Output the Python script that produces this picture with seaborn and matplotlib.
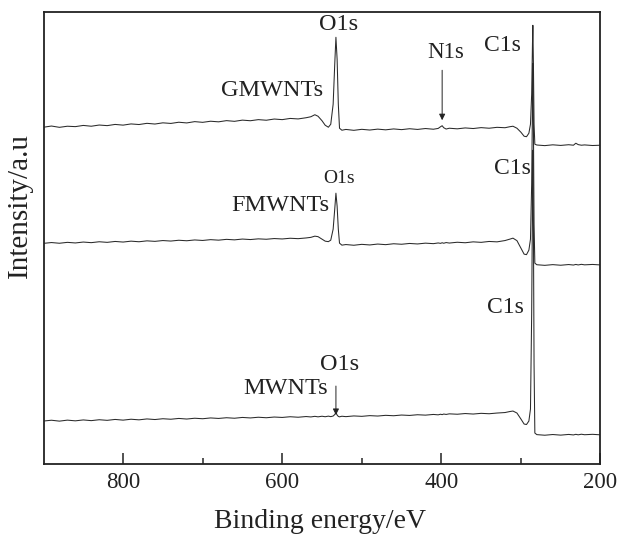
import matplotlib
matplotlib.use("Agg")
import matplotlib.pyplot as plt
import seaborn as sns
import pandas as pd
from matplotlib.ticker import FixedLocator

# Binding energy grid (eV), shared by all three spectra
binding_energy = [
    900, 890, 880, 870, 860, 850, 840, 830, 820, 810,
    800, 790, 780, 770, 760, 750, 740, 730, 720, 710,
    700, 690, 680, 670, 660, 650, 640, 630, 620, 610,
    600, 590, 580, 570,
    564, 559, 555, 550, 546, 542, 539, 536, 534, 532.5, 531, 529.5, 528, 525,
    520, 510, 500, 490, 480, 470, 460, 450, 440, 430, 420, 410,
    404, 401, 399, 397, 394, 390,
    380, 370, 360, 350, 340, 330, 320,
    314, 310, 305, 300, 296, 293, 290, 288, 286.5, 285.5, 285, 284.3, 283.5, 282.5,
    280, 270, 260, 250, 240,
    234, 231, 228, 224, 220, 210, 200,
]

# Offset intensities (a.u.)
gmwnts = [
    337.0, 338.2, 336.9, 338.0, 337.6, 338.8, 338.0, 339.2, 338.6, 339.8,
    339.1, 340.3, 339.7, 340.9, 340.2, 341.4, 340.8, 342.0, 341.3, 342.6,
    341.9, 343.0, 342.4, 343.6, 342.9, 344.1, 343.5, 344.6, 344.0, 345.2,
    344.6, 345.8, 345.3, 346.5,
    347.5, 349.5, 348.0, 343.5, 339.0, 337.0, 340.0, 360.0, 400.0, 427.0, 405.0, 360.0, 336.0, 334.0,
    334.8, 333.9, 334.9, 334.2, 335.1, 334.4, 335.3, 334.6, 335.5, 334.8, 335.7, 335.0,
    335.8, 337.5, 338.5, 336.5, 335.2, 336.0,
    335.4, 336.3, 335.7, 336.6, 336.0, 336.9, 336.5,
    337.5, 338.0, 336.0, 332.0, 328.0, 327.5, 331.0, 340.0, 370.0, 420.0, 439.0, 400.0, 340.0, 320.0,
    319.2, 318.6, 319.4, 318.8, 319.5,
    319.0, 321.0, 319.6, 319.0, 319.3, 318.7, 319.0,
]

fmwnts = [
    220.8, 221.6, 220.9, 221.8, 221.2, 222.1, 221.5, 222.4, 221.8, 222.7,
    222.1, 223.0, 222.4, 223.3, 222.8, 223.6, 223.1, 223.9, 223.4, 224.2,
    223.7, 224.5, 224.0, 224.8, 224.3, 225.1, 224.6, 225.3, 224.9, 225.6,
    225.2, 225.9, 225.5, 226.2,
    226.8, 228.0, 227.5, 225.0, 223.0, 222.5, 224.0, 235.0, 255.0, 271.0, 258.0, 235.0, 221.0, 219.0,
    219.6, 218.9, 219.8, 219.2, 220.1, 219.5, 220.4, 219.9, 220.7, 220.2, 221.0, 220.5,
    221.2, 220.8, 221.4, 220.9, 221.6, 221.1,
    221.9, 221.4, 222.3, 221.8, 222.7, 222.3, 223.6,
    225.0, 226.0, 223.5, 216.0, 210.0, 209.5, 214.0, 225.0, 280.0, 360.0, 401.0, 340.0, 240.0, 201.0,
    199.4, 198.8, 199.5, 198.9, 199.6,
    199.1, 199.7, 199.2, 199.8, 199.3, 199.7, 199.2,
]

mwnts = [
    43.0, 43.8, 42.9, 43.9, 43.2, 44.1, 43.4, 44.3, 43.7, 44.6,
    43.9, 44.8, 44.2, 45.1, 44.5, 45.3, 44.8, 45.6, 45.0, 45.8,
    45.3, 46.1, 45.6, 46.3, 45.8, 46.6, 46.1, 46.8, 46.3, 47.0,
    46.6, 47.3, 46.8, 47.5,
    47.1, 47.7, 47.2, 47.8, 47.3, 47.9, 47.4, 48.0, 49.5, 51.5, 49.0, 47.6, 47.2, 47.8,
    47.4, 48.1, 47.7, 48.4, 48.0, 48.7, 48.3, 49.0, 48.6, 49.3, 48.9, 49.6,
    49.2, 49.8, 49.4, 50.0, 49.6, 50.2,
    49.8, 50.5, 50.0, 50.7, 50.3, 51.0, 51.5,
    52.5, 53.0, 51.0, 45.0, 40.0, 39.5, 43.0, 55.0, 150.0, 260.0, 314.0, 240.0, 100.0, 31.0,
    29.4, 28.8, 29.5, 28.9, 29.6,
    29.1, 29.7, 29.2, 29.8, 29.3, 29.7, 29.2,
]

series_names = ["GMWNTs", "FMWNTs", "MWNTs"]
x_major_ticks = [800, 600, 400, 200]
x_minor_ticks = [700, 500, 300]

sns.set_style("white")
plt.rcParams["font.family"] = ["Liberation Serif", "DejaVu Serif"]

frames = []
for name, vals in zip(series_names, [gmwnts, fmwnts, mwnts]):
    frames.append(pd.DataFrame({"energy": binding_energy, "intensity": vals, "sample": name}))
df = pd.concat(frames, ignore_index=True)

fig = plt.figure(figsize=(6.19, 5.35), dpi=100)
ax = fig.add_axes([0.0703, 0.1327, 0.8998, 0.8443])

sns.lineplot(data=df, x="energy", y="intensity", units="sample", estimator=None,
             sort=False, color="#2a2a2a", lw=0.75, ax=ax, legend=False)

ax.set_xlim(900, 200)
ax.set_ylim(0, 452)

ax.xaxis.set_major_locator(FixedLocator(x_major_ticks))
ax.xaxis.set_minor_locator(FixedLocator(x_minor_ticks))
ax.set_yticks([])
ax.tick_params(axis="x", which="major", direction="in", length=8, width=1.1,
               labelsize=16.5, pad=6, colors="#222222", bottom=True, top=False)
ax.tick_params(axis="x", which="minor", direction="in", length=4, width=1.1,
               bottom=True, top=False)
for sp in ax.spines.values():
    sp.set_linewidth(1.3)
    sp.set_color("#222222")
    sp.set_visible(True)

ax.set_xlabel("Binding energy/eV", fontsize=20, color="#222222")
ax.xaxis.set_label_coords(0.496, -0.127)
ax.xaxis.label.set_verticalalignment("center")
ax.set_ylabel("Intensity/a.u", fontsize=21, color="#222222")
ax.yaxis.set_label_coords(-0.042, 0.573)
ax.yaxis.label.set_verticalalignment("center")

tc = "#222222"
# GMWNTs annotations
ax.text(549, 374, "GMWNTs", fontsize=17.5, ha="right", va="center", color=tc)
ax.text(529, 440, "O1s", fontsize=17.5, ha="center", va="center", color=tc)
ax.text(394, 412, "N1s", fontsize=16.5, ha="center", va="center", color=tc)
ax.annotate("", xy=(399, 344), xytext=(399, 394),
            arrowprops=dict(arrowstyle="-|>", lw=0.7, color=tc, mutation_scale=9,
                            shrinkA=0, shrinkB=0))
ax.text(323, 419, "C1s", fontsize=17, ha="center", va="center", color=tc)

# FMWNTs annotations
ax.text(541, 259, "FMWNTs", fontsize=17.5, ha="right", va="center", color=tc)
ax.text(529, 286, "O1s", fontsize=14, ha="center", va="center", color=tc)
ax.text(311, 296, "C1s", fontsize=17, ha="center", va="center", color=tc)

# MWNTs annotations
ax.text(543, 76, "MWNTs", fontsize=17.5, ha="right", va="center", color=tc)
ax.text(527.5, 100, "O1s", fontsize=17.5, ha="center", va="center", color=tc)
ax.annotate("", xy=(532.5, 49), xytext=(532.5, 78),
            arrowprops=dict(arrowstyle="-|>", lw=0.7, color=tc, mutation_scale=9,
                            shrinkA=0, shrinkB=0))
ax.text(319, 157, "C1s", fontsize=17, ha="center", va="center", color=tc)

fig.savefig("out.png", dpi=100)
